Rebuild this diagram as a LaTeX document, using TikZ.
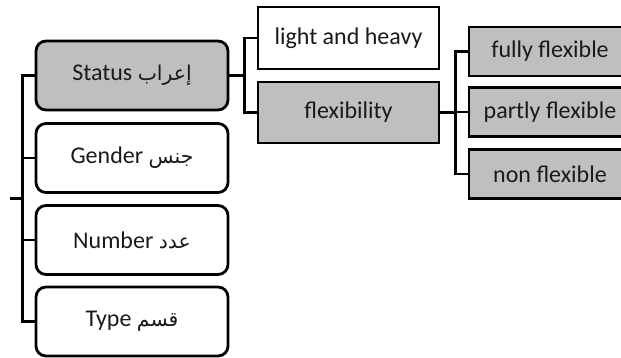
\documentclass[tikz,border=0pt]{standalone}
\usepackage{fontspec}
\setmainfont{Carlito}
\newfontfamily\arabicfont[Script=Arabic,Scale=0.85]{DejaVu Sans}
\TeXXeTstate=1
\newcommand{\artext}[1]{{\arabicfont\beginR #1\endR}}
\definecolor{boxgray}{HTML}{BFBFBF}
\definecolor{inkdark}{HTML}{1A1A1A}

\begin{document}
\begin{tikzpicture}[x=1pt,y=-1pt,
  every node/.style={font=\fontsize{24}{28}\selectfont, inner sep=0pt, text=inkdark},
  frame/.style={draw=black, line width=2.8pt},
  catbox/.style={frame, rounded corners=10pt, minimum width=192pt, minimum height=69pt},
  subbox/.style={frame, minimum width=181pt, minimum height=62pt},
  leafbox/.style={frame, fill=boxgray, minimum width=162pt, minimum height=49pt},
  link/.style={line width=2.8pt}]
  \useasboundingbox (0,0) rectangle (621,358);
  \clip (0,0) rectangle (621,358);

  % grammatical categories
  \node[catbox, fill=boxgray] (status) at (132,75.5) {Status \artext{إعراب}};
  \node[catbox] (gender) at (132,158) {Gender \artext{جنس}};
  \node[catbox] (number) at (132,240) {Number \artext{عدد}};
  \node[catbox] (type)   at (132,321.5) {Type \artext{قسم}};

  % subdivisions of status
  \node[subbox] (light) at (348.5,38) {light and heavy};
  \node[subbox, fill=boxgray, minimum height=61pt] (flex) at (348.5,112.5) {flexibility};

  % degrees of flexibility
  \node[leafbox] (fully)   at (550,51.5) {fully flexible};
  \node[leafbox] (partly)  at (550,112) {partly flexible};
  \node[leafbox] (nonflex) at (550,174) {non flexible};

  % root bracket
  \coordinate (root) at (10,198.5);
  \draw[link] (root) -- ++(14,0);
  \draw[link] (status.west) -- ++(-12,0) |- (type.west);
  \draw[link] (gender.west) -- ++(-12,0);
  \draw[link] (number.west) -- ++(-12,0);

  % status branches
  \draw[link] (status.east) -- ++(15,0) coordinate (j1);
  \draw[link] (light.west) -| (j1) |- (flex.west);

  % flexibility branches
  \draw[link] (flex.east) -- ++(15,0) coordinate (j2);
  \draw[link] (fully.west) -| (j2) |- (nonflex.west);
  \draw[link] (partly.west) -- (partly.west -| j2);
\end{tikzpicture}
\end{document}
